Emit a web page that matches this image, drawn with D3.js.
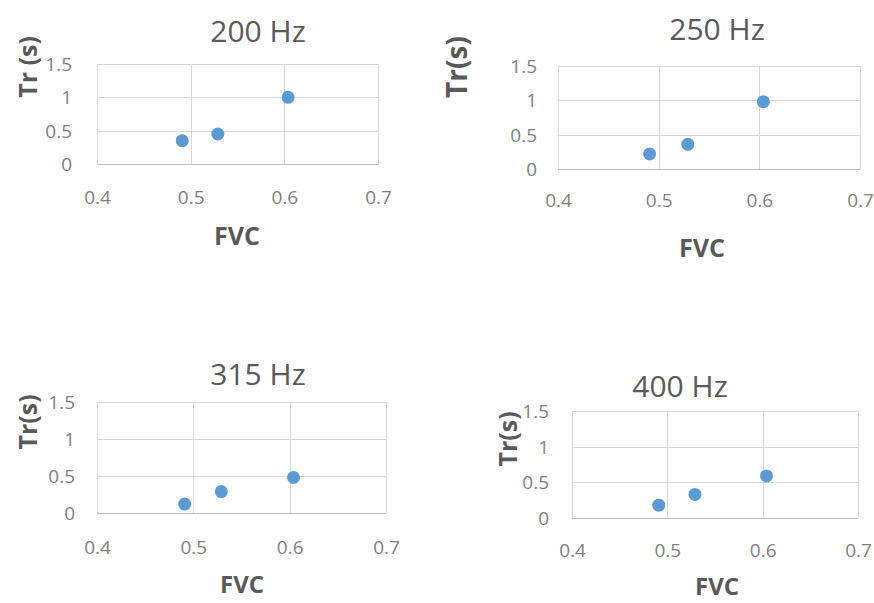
<!DOCTYPE html>
<html lang="en">
<head>
    <meta charset="UTF-8">
    <title>Tr vs FVC</title>
    <script src="https://d3js.org/d3.v7.min.js"></script>
    <style>
        body { margin: 0; background: #fff; }
        .grid line { stroke: #d9d9d9; stroke-width: 1px; }
        .tick text { font: 19px "Open Sans", sans-serif; fill: #7f7f7f; }
        .title { font: 30px "Open Sans", sans-serif; fill: #595959; }
        .axis-title { font: bold 25px "Open Sans", sans-serif; fill: #595959; }
        .dot { fill: #5b9bd5; }
    </style>
</head>
<body>
<div id="chart"></div>

<script>
    // data
    var titles = ["200 Hz", "250 Hz", "315 Hz", "400 Hz"];
    var yTitles = ["Tr (s)", "Tr(s)", "Tr(s)", "Tr(s)"];
    var fvc = [0.491, 0.529, 0.604];
    var tr200 = [0.35, 0.45, 1.0];
    var tr250 = [0.22, 0.36, 0.98];
    var tr315 = [0.12, 0.29, 0.48];
    var tr400 = [0.18, 0.33, 0.59];
    var xTicks = [0.4, 0.5, 0.6, 0.7];
    var yTicks = [0, 0.5, 1, 1.5];

    var series = [tr200, tr250, tr315, tr400];

    // layout of each panel (plot box, label positions)
    var layout = [
        { x0: 97,  x1: 378, y0: 64,  y1: 164, tx: 258, ty: 42,  yx: 28,  yy: 67,  yf: 25, xx: 237, xy: 245, xf: 25, xt: 33, yt: 25 },
        { x0: 558, x1: 860, y0: 66,  y1: 169, tx: 717, ty: 40,  yx: 457, yy: 67,  yf: 28, xx: 702, xy: 257, xf: 25, xt: 31, yt: 21 },
        { x0: 97,  x1: 386, y0: 402, y1: 513, tx: 258, ty: 385, yx: 28,  yy: 422, yf: 25, xx: 242, xy: 593, xf: 24, xt: 34, yt: 22 },
        { x0: 572, x1: 858, y0: 411, y1: 518, tx: 680, ty: 397, yx: 508, yy: 439, yf: 25, xx: 717, xy: 595, xf: 24, xt: 32, yt: 23 }
    ];

    var svg = d3.select("#chart").append("svg")
        .attr("width", 874)
        .attr("height", 603);

    layout.forEach(function(p, i) {
        var x = d3.scaleLinear().domain([0.4, 0.7]).range([p.x0, p.x1]);
        var y = d3.scaleLinear().domain([0, 1.5]).range([p.y1, p.y0]);

        var g = svg.append("g");

        // grid
        var grid = g.append("g").attr("class", "grid");
        grid.selectAll("line.h").data(yTicks).enter().append("line")
            .attr("class", "h")
            .attr("x1", p.x0).attr("x2", p.x1)
            .attr("y1", function(d) { return Math.round(y(d)) + 0.5; })
            .attr("y2", function(d) { return Math.round(y(d)) + 0.5; });
        grid.selectAll("line.v").data(xTicks).enter().append("line")
            .attr("class", "v")
            .attr("y1", p.y0).attr("y2", p.y1)
            .attr("x1", function(d) { return Math.round(x(d)) + 0.5; })
            .attr("x2", function(d) { return Math.round(x(d)) + 0.5; });
        g.append("line")
            .attr("x1", p.x0).attr("x2", p.x1)
            .attr("y1", Math.round(y(0)) + 0.5).attr("y2", Math.round(y(0)) + 0.5)
            .style("stroke", "#bfbfbf");

        // axes
        var xAxis = g.append("g")
            .attr("transform", "translate(0," + y(0) + ")")
            .call(d3.axisBottom(x).tickValues(xTicks).tickSize(0).tickFormat(d3.format("")));
        xAxis.select(".domain").remove();
        xAxis.selectAll("text").attr("y", p.xt).attr("dy", "0.35em");

        var yAxis = g.append("g")
            .attr("transform", "translate(" + p.x0 + ",0)")
            .call(d3.axisLeft(y).tickValues(yTicks).tickSize(0).tickFormat(d3.format("")));
        yAxis.select(".domain").remove();
        yAxis.selectAll("text").attr("x", -p.yt).attr("dy", "0.35em");

        // points
        g.selectAll("circle").data(series[i]).enter().append("circle")
            .attr("class", "dot")
            .attr("cx", function(d, j) { return x(fvc[j]); })
            .attr("cy", function(d) { return y(d); })
            .attr("r", 6.5);

        // titles
        g.append("text").attr("class", "title")
            .attr("x", p.tx).attr("y", p.ty)
            .attr("text-anchor", "middle")
            .text(titles[i]);

        g.append("text").attr("class", "axis-title")
            .attr("transform", "translate(" + p.yx + "," + p.yy + ") rotate(-90)")
            .attr("text-anchor", "middle")
            .attr("dy", "0.35em")
            .style("font-size", p.yf + "px")
            .text(yTitles[i]);

        g.append("text").attr("class", "axis-title")
            .attr("x", p.xx).attr("y", p.xy)
            .attr("text-anchor", "middle")
            .style("font-size", p.xf + "px")
            .text("FVC");
    });
</script>
</body>
</html>
